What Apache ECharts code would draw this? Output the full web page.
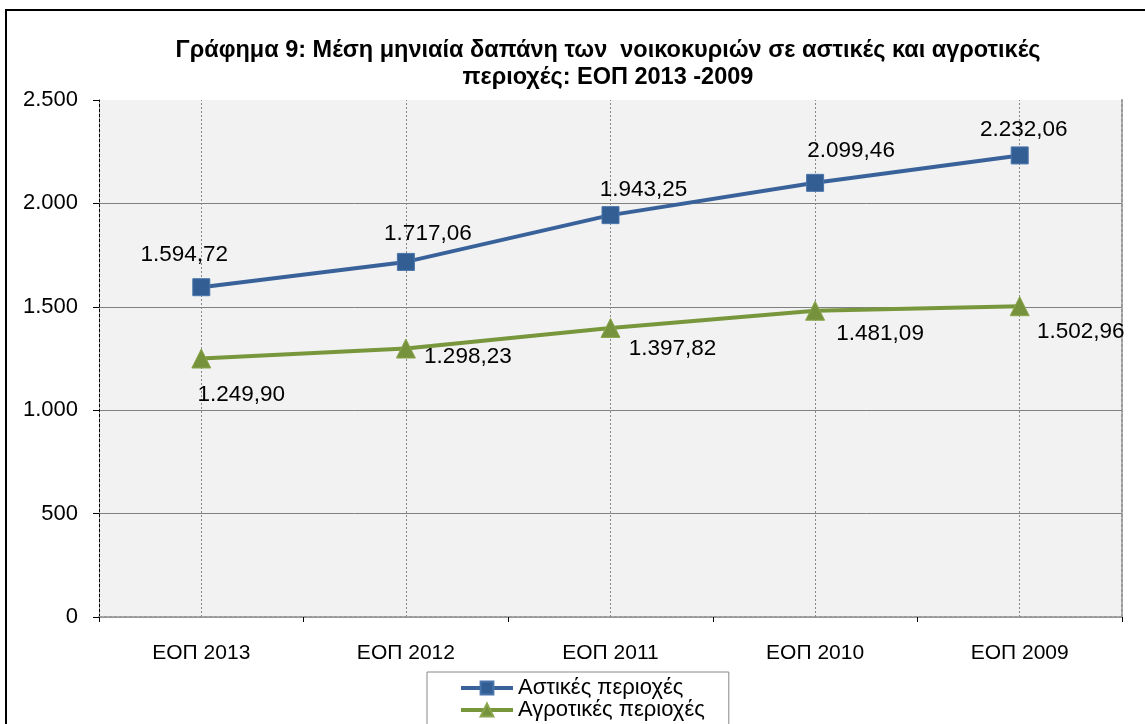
<!DOCTYPE html>
<html><head><meta charset="utf-8">
<script src="https://cdn.jsdelivr.net/npm/echarts@6/dist/echarts.min.js"></script>
<style>html,body{margin:0;padding:0;background:#fff}#c{width:1145px;height:724px}</style>
</head><body><div id="c"></div>
<script>
const categories = ['ΕΟΠ 2013', 'ΕΟΠ 2012', 'ΕΟΠ 2011', 'ΕΟΠ 2010', 'ΕΟΠ 2009'];
const urban = [1594.72, 1717.06, 1943.25, 2099.46, 2232.06];
const rural = [1249.90, 1298.23, 1397.82, 1481.09, 1502.96];
const seriesNames = ['Αστικές περιοχές', 'Αγροτικές περιοχές'];
const yTicks = [0, 500, 1000, 1500, 2000, 2500];

const urbanLabelOffsets = [[-17, -32], [22, -28], [33, -25], [36, -32], [4, -26]];
const ruralLabelOffsets = [[40, 36], [62, 8], [62, 21], [65, 23], [61, 26]];

function fmtThousands(v) {
  return String(v).replace(/\B(?=(\d{3})+(?!\d))/g, '.');
}
function fmtVal(v) {
  const parts = v.toFixed(2).split('.');
  return fmtThousands(parts[0]) + ',' + parts[1];
}
const FONT = 'Liberation Sans, Arial, sans-serif';

const chart = echarts.init(document.getElementById('c'));
chart.setOption({
  animation: false,
  backgroundColor: '#fff',
  textStyle: { fontFamily: FONT },
  title: {
    text: 'Γράφημα 9: Μέση μηνιαία δαπάνη των  νοικοκυριών σε αστικές και αγροτικές\nπεριοχές: ΕΟΠ 2013 -2009',
    left: 603, textAlign: 'center', top: 32,
    textStyle: { fontFamily: FONT, fontSize: 23.5, fontWeight: 'bold', color: '#000', lineHeight: 27 }
  },
  graphic: [
    { type: 'polyline', shape: { points: [[6, 724], [6, 10], [1145, 10]] }, style: { stroke: '#000', lineWidth: 2, fill: null }, z: 10 }
  ],
  legend: {
    orient: 'vertical', left: 427, top: 672, height: 80,
    padding: [5, 24, 8, 32],
    itemGap: 0, itemWidth: 52, itemHeight: 16,
    borderColor: '#888', borderWidth: 1,
    lineStyle: { width: 4 },
    textStyle: { fontFamily: FONT, fontSize: 22, color: '#000', lineHeight: 22 },
    data: seriesNames
  },
  grid: { left: 99, right: 23, top: 100, bottom: 107, show: true, backgroundColor: '#f2f2f2', borderWidth: 0 },
  xAxis: [{
    type: 'category', data: categories, boundaryGap: true,
    axisLine: { lineStyle: { color: '#000', type: [3, 2], width: 1 } },
    axisTick: { show: true, length: 5, lineStyle: { color: '#000' } },
    axisLabel: { fontFamily: FONT, fontSize: 21, color: '#000', margin: 26 },
    splitLine: { show: false }
  }, {
    type: 'category', data: categories, position: 'top', boundaryGap: true,
    axisLine: { lineStyle: { color: '#999', type: [3, 2], width: 2 } },
    axisTick: { show: false }, axisLabel: { show: false }, splitLine: { show: false }
  }],
  yAxis: [{
    type: 'value', min: 0, max: 2500, interval: 500,
    axisLine: { show: true, lineStyle: { color: '#000', type: [3, 2], width: 1 } },
    axisTick: { show: true, length: 6, lineStyle: { color: '#000' } },
    axisLabel: { fontFamily: FONT, fontSize: 22, color: '#000', margin: 21, formatter: v => fmtThousands(v) },
    splitLine: { show: true, lineStyle: { color: ['rgba(0,0,0,0)', '#808080', '#808080', '#808080', '#808080', 'rgba(0,0,0,0)'], width: 1 } }
  }, {
    type: 'value', min: 0, max: 2500, interval: 500, position: 'right',
    axisLine: { show: true, lineStyle: { color: '#999', type: [3, 2], width: 2 } },
    axisTick: { show: false }, axisLabel: { show: false }, splitLine: { show: false }
  }],
  series: [{
    name: seriesNames[0], type: 'line', z: 3,
    data: urban.map((v, i) => ({ value: v, label: { offset: urbanLabelOffsets[i] } })),
    symbol: 'rect', symbolSize: 17,
    lineStyle: { color: '#3a629a', width: 4 },
    itemStyle: { color: '#335e93', borderColor: '#4a75ab', borderWidth: 1 },
    label: { show: true, position: 'inside', align: 'center', verticalAlign: 'middle', fontFamily: FONT, fontSize: 22.5, color: '#000', formatter: p => fmtVal(p.value) },
    markLine: {
      silent: true, symbol: 'none', z: 1,
      label: { show: false },
      lineStyle: { color: '#888', type: [2, 2], width: 1 },
      data: categories.map(c => ({ xAxis: c }))
    }
  }, {
    name: seriesNames[1], type: 'line', z: 3,
    data: rural.map((v, i) => ({ value: v, label: { offset: ruralLabelOffsets[i] } })),
    symbol: 'triangle', symbolSize: 19,
    lineStyle: { color: '#78963b', width: 4 },
    itemStyle: { color: '#76923c', borderColor: '#8aa64c', borderWidth: 1 },
    label: { show: true, position: 'inside', align: 'center', verticalAlign: 'middle', fontFamily: FONT, fontSize: 22.5, color: '#000', formatter: p => fmtVal(p.value) }
  }]
});
</script></body></html>
